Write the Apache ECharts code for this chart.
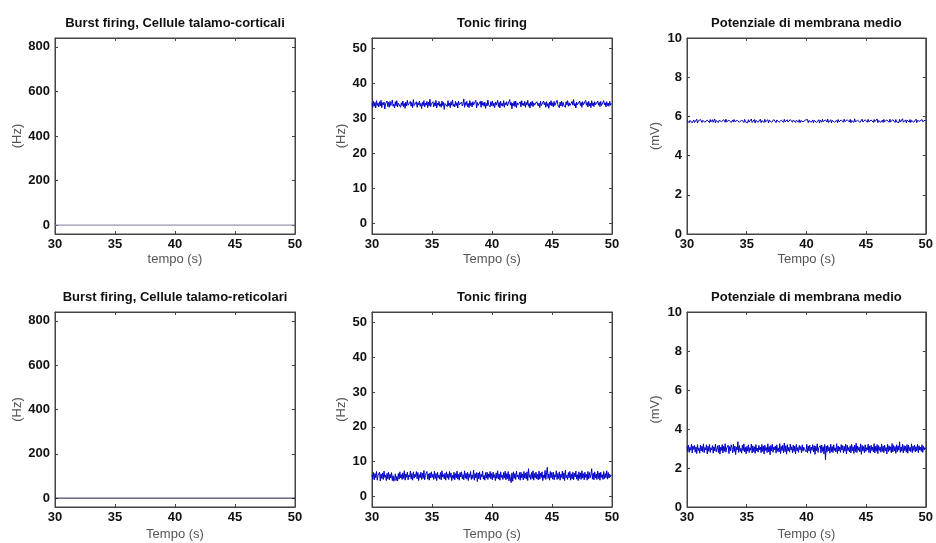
<!DOCTYPE html>
<html>
<head>
<meta charset="utf-8">
<script src="https://cdn.jsdelivr.net/npm/echarts@6/dist/echarts.min.js"></script>
<style>html,body{margin:0;padding:0;background:#fff}#c{width:936px;height:543px}</style>
</head>
<body>
<div id="c"></div>
<script>
// time span shown (s)
var T_START = 30, T_END = 50;
var X_TICKS = [30, 35, 40, 45, 50];

// titles / axis names
var TITLES = ['Burst firing, Cellule talamo-corticali', 'Tonic firing', 'Potenziale di membrana medio',
              'Burst firing, Cellule talamo-reticolari', 'Tonic firing', 'Potenziale di membrana medio'];
var XNAMES = ['tempo (s)', 'Tempo (s)', 'Tempo (s)', 'Tempo (s)', 'Tempo (s)', 'Tempo (s)'];
var YNAMES = ['(Hz)', '(Hz)', '(mV)', '(Hz)', '(Hz)', '(mV)'];

// y tick labels
var BURST_TICKS = [0, 200, 400, 600, 800];
var TONIC_TICKS = [0, 10, 20, 30, 40, 50];
var MEMB_TICKS = [0, 2, 4, 6, 8, 10];

// series values
var BURST_TC = [0,0,0,0,0,0,0,0,0,0,0,0,0,0,0,0,0,0,0,0,0];
var BURST_RE = [0,0,0,0,0,0,0,0,0,0,0,0,0,0,0,0,0,0,0,0,0];

var TONIC_TOP = [
34.3,33.2,34.9,33.5,34.6,33.0,35.1,33.7,34.4,33.3,34.8,33.6,35.2,33.1,34.5,33.9,34.7,32.7,34.2,33.8,
35.0,33.4,34.6,33.2,34.9,33.7,34.3,35.3,33.5,34.1,33.0,34.8,33.6,35.1,33.3,34.4,33.9,34.7,33.2,34.5,
33.7,35.0,33.4,34.3,32.9,34.7,33.6,35.2,33.8,34.1,33.3,34.9,33.5,34.6,33.1,35.4,33.7,34.2,33.4,34.8,
33.2,34.5,33.9,35.0,33.5,34.3,32.8,34.6,33.7,35.1,33.3,34.4,33.8,34.9,33.1,34.7,33.6,35.5,33.4,34.2,
33.9,34.8,33.3,34.5,33.6,35.2,33.0,34.4,33.8,34.9,33.5,34.2,33.2,35.0,33.7,34.6,32.6,34.3,33.9,34.7,
33.4,35.1,33.6,34.4,33.1,34.8,33.8,35.3,33.5,34.1,33.3,34.9,33.7,34.5,33.0,35.0,33.9,34.3,33.4,34.7,
33.6,34.2,35.6,33.2,34.6,33.8,34.9,33.4,34.3,33.1,35.1,33.7,34.5,33.3,34.8,33.9,34.4,33.5,35.2,33.0,
34.6,33.7,34.2,33.4,34.9,33.2,35.0,33.8,34.5,33.5,34.7,32.9,34.3,33.6,35.3,33.9,34.1,33.3,34.8,33.7,
35.0,33.5,34.4,33.1,34.7,33.8,34.2,35.2,33.4,34.6,33.0,34.9,33.7,34.3,33.5,35.1,33.2,34.5,33.9,34.8,
33.6,34.1,33.3,35.4,33.8,34.6,32.8,34.4,33.7,34.9,33.4,35.0,33.1,34.5,33.9,34.2,33.5,34.8,33.3,35.1,
33.8,34.4,33.6,34.9,33.2,34.6,33.9,35.2,33.5,34.3,33.0,34.7,33.7,35.0,33.4,34.5,33.8,34.1,33.3,34.8,
35.3,33.6,34.4,33.1,34.9,33.7,34.2,33.4,35.0,33.9,34.6,33.2,34.8,33.5,34.3,32.9,34.7,33.8,35.1,33.6,
34.5,33.3,34.9,33.7,34.2,33.5,35.2,33.9,34.4,33.1,34.7,33.6,35.0,33.4,34.6,33.8,34.3,33.2,34.8,33.9,
35.1,33.5,34.5,33.7,34.1,33.3,34.9,33.8,35.4,33.6,34.3,33.0,34.7,33.9,34.4,33.4,35.0,33.7,34.6,33.2,
34.8,33.9,34.2,33.5,35.2,33.8,34.6,33.3,34.9,33.6,34.4,33.1,35.1,33.7,34.5,33.4,34.8,33.9,34.3,33.5,
35.0,33.8,34.6,33.4,34.9,33.7,34.2,33.6,35.1,33.9,34.5,33.3,34.8,33.7,34.4,33.5,34.9,33.8,34.3,34.1];

var MEMB_TOP = [
5.79,5.70,5.83,5.68,5.80,5.72,5.85,5.67,5.77,5.82,5.69,5.78,5.73,5.86,5.66,5.77,5.81,5.71,5.84,5.74,
5.69,5.80,5.75,5.86,5.70,5.78,5.64,5.81,5.73,5.79,5.68,5.84,5.72,5.77,5.83,5.70,5.76,5.87,5.67,5.79,
5.74,5.82,5.69,5.80,5.71,5.85,5.73,5.78,5.66,5.83,5.75,5.70,5.86,5.72,5.79,5.68,5.81,5.74,5.88,5.69,
5.77,5.82,5.71,5.84,5.73,5.78,5.67,5.80,5.75,5.86,5.70,5.79,5.64,5.82,5.74,5.77,5.69,5.85,5.72,5.80,
5.76,5.68,5.83,5.71,5.79,5.74,5.87,5.69,5.78,5.72,5.84,5.66,5.80,5.75,5.82,5.70,5.77,5.73,5.86,5.68,
5.79,5.74,5.81,5.69,5.85,5.72,5.78,5.76,5.83,5.67,5.80,5.73,5.88,5.70,5.77,5.71,5.84,5.75,5.79,5.68,
5.82,5.73,5.86,5.70,5.78,5.65,5.81,5.74,5.77,5.69,5.85,5.72,5.80,5.76,5.83,5.71,5.79,5.67,5.84,5.74,
5.78,5.70,5.82,5.73,5.87,5.69,5.80,5.75,5.76,5.71,5.83,5.68,5.79,5.74,5.85,5.72,5.78,5.70,5.81,5.76,
5.71,5.84,5.68,5.79,5.73,5.86,5.70,5.77,5.82,5.67,5.80,5.74,5.88,5.69,5.78,5.72,5.83,5.66,5.81,5.75,
5.70,5.85,5.73,5.79,5.68,5.82,5.76,5.71,5.86,5.69,5.78,5.74,5.83,5.67,5.80,5.72,5.87,5.70,5.77,5.75,
5.81,5.68,5.84,5.72,5.79,5.66,5.82,5.74,5.78,5.70,5.86,5.73,5.80,5.69,5.83,5.75,5.77,5.71,5.85,5.68,
5.79,5.73,5.82,5.70,5.88,5.72,5.77,5.67,5.81,5.75,5.84,5.69,5.78,5.74,5.86,5.71,5.80,5.68,5.83,5.73,
5.77,5.70,5.85,5.72,5.79,5.66,5.82,5.75,5.78,5.69,5.84,5.73,5.80,5.71,5.87,5.68,5.79,5.74,5.83,5.70,
5.76,5.81,5.69,5.85,5.73,5.78,5.67,5.82,5.74,5.80,5.70,5.86,5.72,5.77,5.65,5.83,5.75,5.79,5.69,5.84,
5.72,5.80,5.76,5.68,5.85,5.71,5.79,5.73,5.88,5.70,5.78,5.74,5.82,5.67,5.81,5.75,5.77,5.71,5.84,5.69,
5.80,5.73,5.83,5.70,5.78,5.74,5.86,5.68,5.79,5.72,5.82,5.75,5.77,5.70,5.84,5.73,5.79,5.71,5.81,5.77];

var TONIC_BOT = [
6.3,5.0,6.9,4.8,6.6,5.4,7.2,4.7,6.1,5.6,7.0,4.5,6.5,5.2,6.8,4.9,7.3,5.5,6.2,4.6,
6.7,5.1,7.0,4.8,6.4,5.3,6.9,4.6,6.0,4.4,5.1,6.5,4.6,5.8,4.5,6.6,5.0,7.1,5.4,6.3,
4.9,6.8,5.2,7.4,4.7,6.5,5.5,7.0,4.8,6.2,5.6,7.3,5.0,6.6,4.7,7.1,5.3,6.4,5.7,7.2,
5.1,6.9,4.6,6.3,5.4,7.0,4.9,6.7,5.2,7.5,4.8,6.1,5.6,7.2,5.0,6.5,4.7,6.8,5.3,7.1,
5.5,6.4,4.9,7.3,5.2,6.6,4.6,7.0,5.4,6.2,5.0,6.9,4.8,7.4,5.6,6.3,5.1,6.7,4.7,7.1,
5.3,6.5,4.9,7.2,5.5,6.8,4.6,6.1,5.2,7.0,4.8,6.6,5.4,7.3,5.0,6.4,4.7,6.9,5.6,7.1,
5.1,6.3,4.8,7.4,5.3,6.7,5.0,7.0,4.6,6.5,5.5,7.2,4.9,6.2,5.2,7.6,4.7,6.6,5.4,6.9,
4.3,6.8,5.1,7.1,4.8,6.4,5.6,7.3,5.0,6.1,4.7,6.9,5.3,7.0,4.9,6.5,5.5,7.2,5.1,6.6,
4.8,7.0,5.4,6.3,4.6,6.8,5.2,7.4,5.0,6.5,4.7,7.1,5.5,6.2,4.9,6.9,5.3,7.3,4.8,6.6,
5.1,7.2,4.5,6.4,5.0,4.0,6.8,4.4,7.1,5.2,6.6,4.9,7.3,5.6,6.2,5.0,6.9,4.7,7.0,5.4,
6.5,4.8,7.2,5.3,6.7,5.0,7.1,4.6,8.0,5.5,6.3,4.9,6.9,5.2,7.4,4.7,6.6,5.4,7.0,5.1,
6.4,4.8,7.3,5.0,6.7,5.5,7.1,4.6,6.2,5.3,7.5,4.9,6.8,8.4,5.2,6.5,4.7,7.2,5.4,6.9,
5.0,7.0,4.8,6.3,5.6,7.4,4.9,6.6,5.2,7.1,4.7,6.4,5.5,7.3,5.0,6.8,4.6,7.6,5.3,6.2,
4.9,6.9,5.4,7.2,4.7,6.5,5.1,7.0,4.8,6.7,5.6,7.3,5.0,6.3,4.6,7.1,5.2,6.8,4.9,7.4,
5.3,6.6,4.8,7.0,5.5,6.4,4.7,7.2,5.1,6.9,5.4,6.2,8.0,5.0,6.7,4.8,7.1,5.3,6.5,4.9,
7.3,5.2,6.8,4.7,7.0,5.5,6.3,4.9,7.2,5.1,6.6,5.4,7.4,5.0,6.9,5.3,6.4,5.7,6.2,5.9];

var MEMB_BOT = [
3.10,2.84,3.18,2.80,3.06,2.91,3.22,2.77,3.13,2.95,3.16,2.81,3.08,2.74,3.20,2.89,3.03,2.76,3.17,2.87,
3.12,2.83,3.24,2.79,3.05,2.93,3.19,2.72,3.11,2.86,3.21,2.80,3.04,2.92,3.15,2.76,3.09,2.88,3.23,2.83,
2.98,3.14,2.79,3.18,2.71,3.07,2.90,3.20,2.77,3.12,2.86,3.25,2.81,3.03,2.95,3.17,2.74,3.10,2.87,3.19,
3.05,2.78,3.22,2.84,3.13,2.69,3.08,2.92,3.35,2.80,3.15,2.85,3.01,2.76,3.18,2.89,3.24,2.82,3.06,2.73,
3.11,2.86,3.19,2.79,3.04,2.91,3.23,2.77,3.14,2.84,3.09,2.75,3.20,2.88,3.02,2.81,3.16,2.93,3.07,2.78,
3.21,2.85,3.12,2.72,3.18,2.90,3.05,2.79,3.24,2.83,3.10,2.68,3.16,2.88,3.22,2.80,3.08,2.94,3.13,2.76,
3.19,2.86,3.03,2.82,3.25,2.74,3.11,2.89,3.17,2.78,3.28,2.84,3.14,2.71,3.20,2.87,3.06,2.81,3.23,2.92,
3.09,2.77,3.18,2.85,3.12,2.73,3.21,2.88,3.05,2.80,3.16,2.93,3.10,2.79,3.19,2.86,3.07,2.96,3.02,2.83,
3.22,2.78,3.13,2.87,3.17,2.75,3.08,2.91,3.20,2.82,3.14,2.70,3.11,2.89,3.24,2.80,3.04,2.94,3.15,2.77,
3.18,2.85,3.09,2.73,3.21,2.42,3.12,2.81,3.16,2.88,3.06,2.76,3.23,2.84,3.10,2.79,3.19,2.90,3.03,2.82,
3.25,2.74,3.13,2.87,3.08,2.80,3.20,2.92,3.15,2.78,3.11,2.86,3.22,2.72,3.17,2.89,3.05,2.83,3.14,2.77,
3.21,2.88,3.09,2.75,3.18,2.84,3.27,2.79,3.12,2.91,3.06,2.82,3.24,2.70,3.16,2.87,3.10,2.78,3.19,2.85,
3.04,2.93,3.22,2.80,3.13,2.76,3.17,2.89,3.08,2.83,3.25,2.77,3.11,2.86,3.20,2.74,3.15,2.90,3.07,2.81,
3.23,2.85,3.12,2.79,3.18,2.88,3.05,2.72,3.21,2.84,3.14,2.90,3.09,2.78,3.26,2.82,3.16,2.87,3.10,2.75,
3.19,2.83,3.13,2.91,3.34,2.80,3.08,2.86,3.22,2.77,3.15,2.89,3.11,2.81,3.20,2.76,3.17,2.88,3.06,2.84,
3.24,2.79,3.12,2.90,3.18,2.82,3.09,2.87,3.21,2.78,3.14,2.92,3.07,2.85,3.19,2.80,3.11,2.93,3.04,2.98];

var SERIES = [BURST_TC, TONIC_TOP, MEMB_TOP, BURST_RE, TONIC_BOT, MEMB_BOT];
var SERIES_COLORS = ['#7c7c9c', '#0000c8', '#0000b8', '#1c1c44', '#0000c8', '#0000c8'];

function withTime(vals) {
  var n = vals.length;
  return vals.map(function (v, i) { return [T_START + i * (T_END - T_START) / (n - 1), v]; });
}

var FONT = '"Liberation Sans", Arial, sans-serif';
var AX = '#444';

var lefts = [55, 372, 687];
var tops = [38, 312];
var heights = [196, 195];
var yRanges = [[-40, 840, BURST_TICKS], [-3, 53, TONIC_TICKS], [0, 10, MEMB_TICKS]];
var yGaps = [27, 24, 25];

var grids = [], xAxes = [], yAxes = [], series = [];
for (var r = 0; r < 2; r++) {
  for (var c = 0; c < 3; c++) {
    var k = r * 3 + c;
    grids.push({left: lefts[c], top: tops[r], width: 240, height: heights[r],
      show: true, borderColor: AX, borderWidth: 1, backgroundColor: '#fff'});
    var xCommon = {type: 'value', gridIndex: k, min: T_START, max: T_END,
      axisLine: {show: true, onZero: false, lineStyle: {color: AX, width: 1}},
      axisTick: {show: true, inside: true, length: 3, customValues: X_TICKS, lineStyle: {color: AX}},
      splitLine: {show: false}};
    xAxes.push(Object.assign({}, xCommon, {position: 'bottom',
      axisLabel: {show: true, customValues: X_TICKS, color: '#111', fontSize: 13, fontWeight: 'bold', fontFamily: FONT, margin: 4},
      name: XNAMES[k], nameLocation: 'middle', nameGap: r === 0 ? 19 : 21,
      nameTextStyle: {color: '#555', fontSize: 13, fontFamily: FONT}}));
    xAxes.push(Object.assign({}, xCommon, {position: 'top',
      axisLabel: {show: false},
      name: TITLES[k], nameLocation: 'middle', nameGap: 8,
      nameTextStyle: {color: '#111', fontSize: 13, fontWeight: 'bold', fontFamily: FONT}}));
    var yr = yRanges[c];
    var yCommon = {type: 'value', gridIndex: k, min: yr[0], max: yr[1],
      axisLine: {show: true, onZero: false, lineStyle: {color: AX, width: 1}},
      axisTick: {show: true, inside: true, length: 3, customValues: yr[2], lineStyle: {color: AX}},
      splitLine: {show: false}};
    yAxes.push(Object.assign({}, yCommon, {position: 'left',
      axisLabel: {show: true, customValues: yr[2], color: '#111', fontSize: 13, fontWeight: 'bold', fontFamily: FONT, margin: 5},
      name: YNAMES[k], nameLocation: 'middle', nameGap: yGaps[c],
      nameTextStyle: {color: '#555', fontSize: 13, fontFamily: FONT}}));
    yAxes.push(Object.assign({}, yCommon, {position: 'right', axisLabel: {show: false}}));
    series.push({type: 'line', xAxisIndex: 2 * k, yAxisIndex: 2 * k, data: withTime(SERIES[k]),
      showSymbol: false, symbol: 'none', animation: false,
      lineStyle: {color: SERIES_COLORS[k], width: 1}});
  }
}

var chart = echarts.init(document.getElementById('c'), null, {renderer: 'canvas'});
chart.setOption({
  backgroundColor: '#fff',
  animation: false,
  grid: grids, xAxis: xAxes, yAxis: yAxes, series: series
});
</script>
</body>
</html>
